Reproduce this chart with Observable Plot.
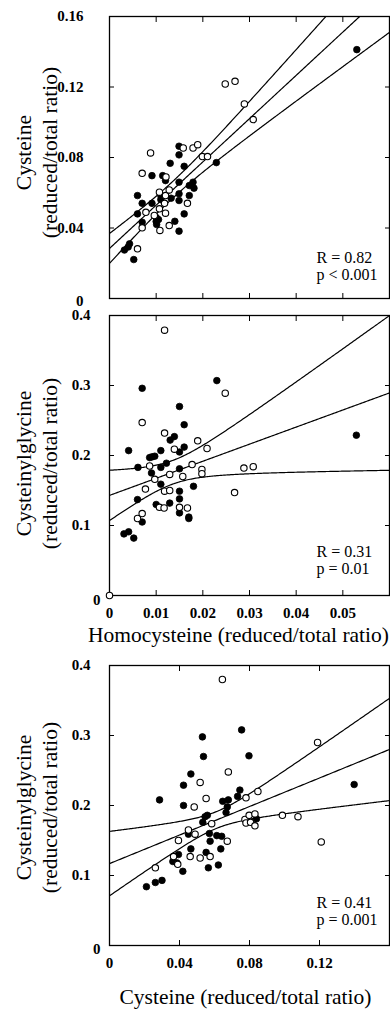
<!DOCTYPE html>
<html><head><meta charset="utf-8">
<script src="https://cdn.jsdelivr.net/npm/d3@7"></script>
<script src="https://cdn.jsdelivr.net/npm/@observablehq/plot@0.6"></script>
<style>
body{margin:0;background:#fff;}
#chart{position:relative;width:390px;height:1009px;overflow:hidden;background:#fff;}
#chart > svg{position:absolute;left:0;}
</style></head><body><div id="chart"></div>
<script>
// ---------- Panel 1: Homocysteine vs Cysteine (reduced/total ratio) ----------
const p1FilledHcy = [0.0032,0.0040,0.0043,0.0052,0.0060,0.0060,0.0070,0.0070,0.0091,0.0091,0.0100,0.0105,0.0100,0.0101,0.0110,0.0110,0.0114,0.0120,0.0130,0.0132,0.0140,0.0149,0.0149,0.0149,0.0149,0.0149,0.0149,0.0160,0.0160,0.0171,0.0171,0.0179,0.0181,0.0229,0.0530];
const p1FilledCys = [0.0275,0.0292,0.0310,0.0221,0.0480,0.0584,0.0540,0.0433,0.0540,0.0697,0.0460,0.0448,0.0437,0.0420,0.0584,0.0561,0.0697,0.0669,0.0767,0.0569,0.0438,0.0864,0.0815,0.0660,0.0594,0.0556,0.0382,0.0750,0.0480,0.0641,0.0584,0.0660,0.0626,0.0771,0.1412];
const p1OpenHcy = [0.0060,0.0070,0.0070,0.0078,0.0088,0.0096,0.0107,0.0107,0.0108,0.0118,0.0120,0.0120,0.0121,0.0128,0.0128,0.0158,0.0167,0.0179,0.0189,0.0199,0.0210,0.0248,0.0269,0.0289,0.0308];
const p1OpenCys = [0.0282,0.0401,0.0710,0.0489,0.0826,0.0471,0.0603,0.0509,0.0386,0.0540,0.0484,0.0584,0.0690,0.0616,0.0414,0.0854,0.0540,0.0854,0.0873,0.0805,0.0805,0.1217,0.1232,0.1104,0.1015];

// ---------- Panel 2: Homocysteine vs Cysteinylglycine ----------
const p2FilledHcy = [0.0031,0.0041,0.0052,0.0041,0.0061,0.0060,0.0070,0.0070,0.0086,0.0091,0.0097,0.0090,0.0100,0.0110,0.0110,0.0110,0.0122,0.0129,0.0130,0.0139,0.0150,0.0150,0.0150,0.0150,0.0150,0.0150,0.0160,0.0160,0.0170,0.0170,0.0180,0.0230,0.0529];
const p2FilledCgl = [0.088,0.091,0.082,0.207,0.183,0.137,0.296,0.105,0.197,0.198,0.199,0.175,0.130,0.207,0.183,0.159,0.189,0.132,0.222,0.227,0.270,0.205,0.181,0.149,0.138,0.118,0.244,0.212,0.112,0.110,0.156,0.307,0.229];
const p2OpenHcy = [0.0000,0.0060,0.0070,0.0070,0.0077,0.0086,0.0097,0.0107,0.0117,0.0118,0.0118,0.0118,0.0129,0.0129,0.0139,0.0150,0.0157,0.0167,0.0177,0.0189,0.0198,0.0198,0.0209,0.0248,0.0268,0.0288,0.0308];
const p2OpenCgl = [0.000,0.110,0.117,0.247,0.152,0.185,0.166,0.126,0.125,0.379,0.232,0.149,0.150,0.173,0.209,0.126,0.170,0.125,0.187,0.221,0.180,0.174,0.210,0.289,0.147,0.182,0.184];

// ---------- Panel 3: Cysteine vs Cysteinylglycine ----------
const p3FilledCys = [0.0211,0.0262,0.0300,0.0286,0.0362,0.0385,0.0394,0.0419,0.0423,0.0423,0.0451,0.0465,0.0465,0.0531,0.0537,0.0533,0.0546,0.0559,0.0552,0.0565,0.0571,0.0575,0.0613,0.0641,0.0636,0.0622,0.0647,0.0679,0.0673,0.0666,0.0732,0.0745,0.0755,0.0797,0.0840,0.1398];
const p3FilledCgl = [0.084,0.090,0.093,0.208,0.120,0.118,0.130,0.106,0.229,0.200,0.159,0.245,0.138,0.298,0.270,0.176,0.184,0.186,0.133,0.111,0.160,0.149,0.157,0.156,0.138,0.115,0.206,0.208,0.198,0.190,0.213,0.222,0.308,0.271,0.181,0.230];
const p3OpenCys = [0.0262,0.0366,0.0390,0.0394,0.0451,0.0461,0.0484,0.0489,0.0518,0.0518,0.0552,0.0575,0.0584,0.0645,0.0673,0.0679,0.0774,0.0780,0.0780,0.0798,0.0806,0.0831,0.0831,0.0848,0.0988,0.1077,0.1189,0.1210];
const p3OpenCgl = [0.111,0.127,0.116,0.150,0.165,0.127,0.198,0.159,0.233,0.125,0.210,0.127,0.174,0.380,0.149,0.248,0.180,0.175,0.211,0.186,0.176,0.188,0.171,0.220,0.186,0.184,0.290,0.148];

// ---------- Regression lines and 95% confidence bands ----------
const fitIntercept = [0.0284, 0.143, 0.117];
const fitSlope     = [2.455, 2.44, 1.019];
const bandCenterX  = [0.0135, 0.0135, 0.061];
const bandMinHalf  = [0.00475, 0.0169, 0.012];
const bandSpread   = [0.272, 5.52, 0.53];

// ---------- Axis ticks, labels, texts ----------
const hcyTicks = [0, 0.01, 0.02, 0.03, 0.04, 0.05];
const cysXTicks = [0, 0.04, 0.08, 0.12];
const cysYTicks = [0, 0.04, 0.08, 0.12, 0.16];
const cglTicks = [0, 0.1, 0.2, 0.3, 0.4];
const yTitles = ["Cysteine\n(reduced/total ratio)", "Cysteinylglycine\n(reduced/total ratio)", "Cysteinylglycine\n(reduced/total ratio)"];
const xTitles = [null, "Homocysteine (reduced/total ratio)", "Cysteine (reduced/total ratio)"];
const stats = ["R = 0.82\np < 0.001", "R = 0.31\np = 0.01", "R = 0.41\np = 0.001"];

const FONT = "'Liberation Serif', 'Times New Roman', Times, serif";

function zip(xs, ys) { return xs.map((x, i) => ({x, y: ys[i]})); }

function bandLines(k, x0, x1) {
  return d3.range(0, 241).map(j => {
    const x = x0 + (x1 - x0) * j / 240;
    const yh = fitIntercept[k] + fitSlope[k] * x;
    const h = Math.sqrt(bandMinHalf[k] ** 2 + bandSpread[k] * (x - bandCenterX[k]) ** 2);
    return {x, fit: yh, lo: yh - h, hi: yh + h};
  });
}

function panel(cfg) {
  const band = bandLines(cfg.k, cfg.xDomain[0], cfg.xDomain[1]);
  const fmt = d => String(d);
  const inner = cfg.xTicks.slice(1);
  const marks = [
    Plot.line(band, {x: "x", y: "hi", stroke: "black", strokeWidth: 1.2, clip: true}),
    Plot.line(band, {x: "x", y: "fit", stroke: "black", strokeWidth: 1.2, clip: true}),
    Plot.line(band, {x: "x", y: "lo", stroke: "black", strokeWidth: 1.2, clip: true}),
    Plot.frame({stroke: "black", strokeWidth: 1.3}),
    Plot.axisY(cfg.yTicks.slice(1), {anchor: "left", tickSize: 0, tickPadding: cfg.yPad, tickFormat: fmt, fontSize: 15, fontWeight: "bold", label: null}),
    Plot.axisY(cfg.yTicks.slice(0, 1), {anchor: "left", tickSize: 0, tickPadding: cfg.zeroPad, dy: cfg.zeroDy, tickFormat: fmt, fontSize: 15, fontWeight: "bold", label: null}),
    Plot.axisY(cfg.yTicks.slice(1, -1), {anchor: "left", tickSize: 5, dx: 5, fill: "none", label: null}),
    Plot.axisY(cfg.yTicks.slice(1, -1), {anchor: "right", tickSize: 5, dx: -5, fill: "none", label: null}),
    Plot.axisX(inner, {anchor: "bottom", tickSize: 5, dy: -5, fill: "none", label: null}),
    Plot.axisX(inner, {anchor: "top", tickSize: 5, dy: 5, fill: "none", label: null}),
    Plot.dot(cfg.filled, {x: "x", y: "y", r: 3.3, fill: "black", stroke: "black", strokeWidth: 0.8}),
    Plot.dot(cfg.open, {x: "x", y: "y", r: 3.2, fill: "white", stroke: "black", strokeWidth: 1.1}),
    Plot.text([cfg.stat], {frameAnchor: "bottom-right", textAnchor: "start", lineAnchor: "middle", dx: -73, dy: cfg.statDy, fontSize: 16, lineHeight: 1.06}),
    Plot.text([cfg.yTitle], {frameAnchor: "left", textAnchor: "middle", rotate: -90, lineAnchor: "middle", dx: -74, dy: cfg.yTitleDy, fontSize: 21.5, lineHeight: 1.22})
  ];
  if (cfg.showXLabels) {
    marks.push(Plot.axisX(cfg.xTicks, {anchor: "bottom", tickSize: 0, tickPadding: 12, tickFormat: fmt, fontSize: 15, fontWeight: "bold", label: null}));
  }
  if (cfg.xTitle) {
    marks.push(Plot.text([cfg.xTitle], {frameAnchor: "bottom", textAnchor: "middle", lineAnchor: "middle", dx: cfg.xTitleDx, dy: cfg.xTitleDy, fontSize: 21.5}));
  }
  const svg = Plot.plot({
    width: 390, height: cfg.height,
    marginLeft: 109, marginRight: 1, marginTop: cfg.mt, marginBottom: cfg.mb,
    x: {domain: cfg.xDomain},
    y: {domain: cfg.yDomain},
    style: {fontFamily: FONT, color: "black", background: "transparent", overflow: "visible"},
    marks
  });
  svg.style.top = cfg.top + "px";
  document.getElementById("chart").appendChild(svg);
}

panel({k: 0, top: 0, height: 300, mt: 16, mb: 2,
  xDomain: [0, 0.06], yDomain: [0, 0.16], xTicks: hcyTicks, yTicks: cysYTicks, yPad: 26, zeroPad: 26, zeroDy: 3,
  filled: zip(p1FilledHcy, p1FilledCys), open: zip(p1OpenHcy, p1OpenCys),
  stat: stats[0], statDy: -32, yTitle: yTitles[0], yTitleDy: -5, showXLabels: false, xTitle: xTitles[0]});

panel({k: 1, top: 300, height: 345, mt: 15, mb: 50,
  xDomain: [0, 0.06], yDomain: [0, 0.4], xTicks: hcyTicks, yTicks: cglTicks, yPad: 19, zeroPad: 9, zeroDy: 5,
  filled: zip(p2FilledHcy, p2FilledCgl), open: zip(p2OpenHcy, p2OpenCgl),
  stat: stats[1], statDy: -35, yTitle: yTitles[1], yTitleDy: 8, showXLabels: true,
  xTitle: xTitles[1], xTitleDx: -11, xTitleDy: 40});

panel({k: 2, top: 645, height: 364, mt: 20, mb: 64,
  xDomain: [0, 0.16], yDomain: [0, 0.4], xTicks: cysXTicks, yTicks: cglTicks, yPad: 19, zeroPad: 9, zeroDy: 4,
  filled: zip(p3FilledCys, p3FilledCgl), open: zip(p3OpenCys, p3OpenCgl),
  stat: stats[2], statDy: -34, yTitle: yTitles[2], yTitleDy: 2, showXLabels: true,
  xTitle: xTitles[2], xTitleDx: -4, xTitleDy: 52});
</script></body></html>
